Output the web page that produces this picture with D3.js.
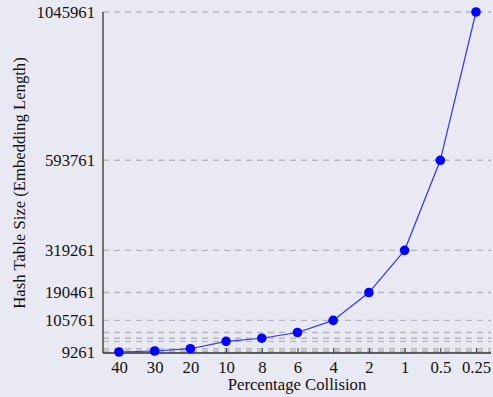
<!DOCTYPE html>
<html><head><meta charset="utf-8">
<script src="https://cdn.jsdelivr.net/npm/d3@7"></script>
<style>
html,body{margin:0;padding:0;background:#e9e9f3;}
svg{display:block;}
</style></head><body>
<svg id="chart" width="493" height="397"></svg>
<script>
const categories = ["40","30","20","10","8","6","4","2","1","0.5","0.25"];
const sizes = [9261, 12261, 19261, 41761, 51261, 68761, 105761, 190461, 319261, 593761, 1045961];
const yTickLabels = [9261, 105761, 190461, 319261, 593761, 1045961];

(function () {
const svg = d3.select("#chart");
const mLeft = 103, mRight = 491, mTop = 12, mBottom = 352;
const x = d3.scalePoint().domain(categories).range([119, 476]);
const y = d3.scaleLinear().domain([9261, 1045961]).range([mBottom, mTop]);
const FF = '"Liberation Serif"';
const FS = "16.7px";

// gridlines at every data value
svg.append("g").selectAll("line").data(sizes).join("line")
  .attr("x1", mLeft).attr("x2", mRight)
  .attr("y1", d => y(d)).attr("y2", d => y(d))
  .attr("stroke", "#b6b6ba").attr("stroke-width", 1.4)
  .attr("stroke-dasharray", "6,5");

// x axis
const xAxis = svg.append("g").attr("transform", `translate(0,${mBottom + 1})`)
  .call(d3.axisBottom(x).tickSize(-5).tickPadding(8));
xAxis.attr("font-family", null);
xAxis.select(".domain").remove();
xAxis.selectAll(".tick line").attr("stroke", "#333");
xAxis.selectAll("text").style("font-family", FF).style("font-size", FS).attr("fill", "#111");
svg.append("line").attr("x1", mLeft).attr("x2", mRight).attr("y1", mBottom + 1).attr("y2", mBottom + 1)
  .attr("stroke", "#333").attr("stroke-width", 1.3);

// y axis
const yAxis = svg.append("g").attr("transform", `translate(${mLeft},0)`)
  .call(d3.axisLeft(y).tickValues(yTickLabels).tickFormat(d3.format("d")).tickSize(0).tickPadding(8));
yAxis.attr("font-family", null);
yAxis.select(".domain").remove();
yAxis.selectAll("text").style("font-family", FF).style("font-size", FS).attr("fill", "#111");
svg.append("line").attr("x1", mLeft).attr("x2", mLeft).attr("y1", mTop).attr("y2", mBottom + 1)
  .attr("stroke", "#333").attr("stroke-width", 1.3);

// line + points
const data = categories.map((c, i) => ({c, v: sizes[i]}));
svg.append("path").datum(data)
  .attr("fill", "none").attr("stroke", "#3333ff").attr("stroke-width", 1.2)
  .attr("d", d3.line().x(d => x(d.c)).y(d => y(d.v)));
svg.append("g").selectAll("circle").data(data).join("circle")
  .attr("cx", d => x(d.c)).attr("cy", d => y(d.v)).attr("r", 4.8)
  .attr("fill", "#0000ff");

// titles
svg.append("text").attr("x", 297).attr("y", 390).attr("text-anchor", "middle")
  .style("font-family", FF).style("font-size", FS).attr("fill", "#111")
  .text("Percentage Collision");
svg.append("text").attr("transform", "translate(25,183) rotate(-90)").attr("text-anchor", "middle")
  .style("font-family", FF).style("font-size", FS).attr("fill", "#111")
  .text("Hash Table Size (Embedding Length)");
})();
</script>
</body></html>
